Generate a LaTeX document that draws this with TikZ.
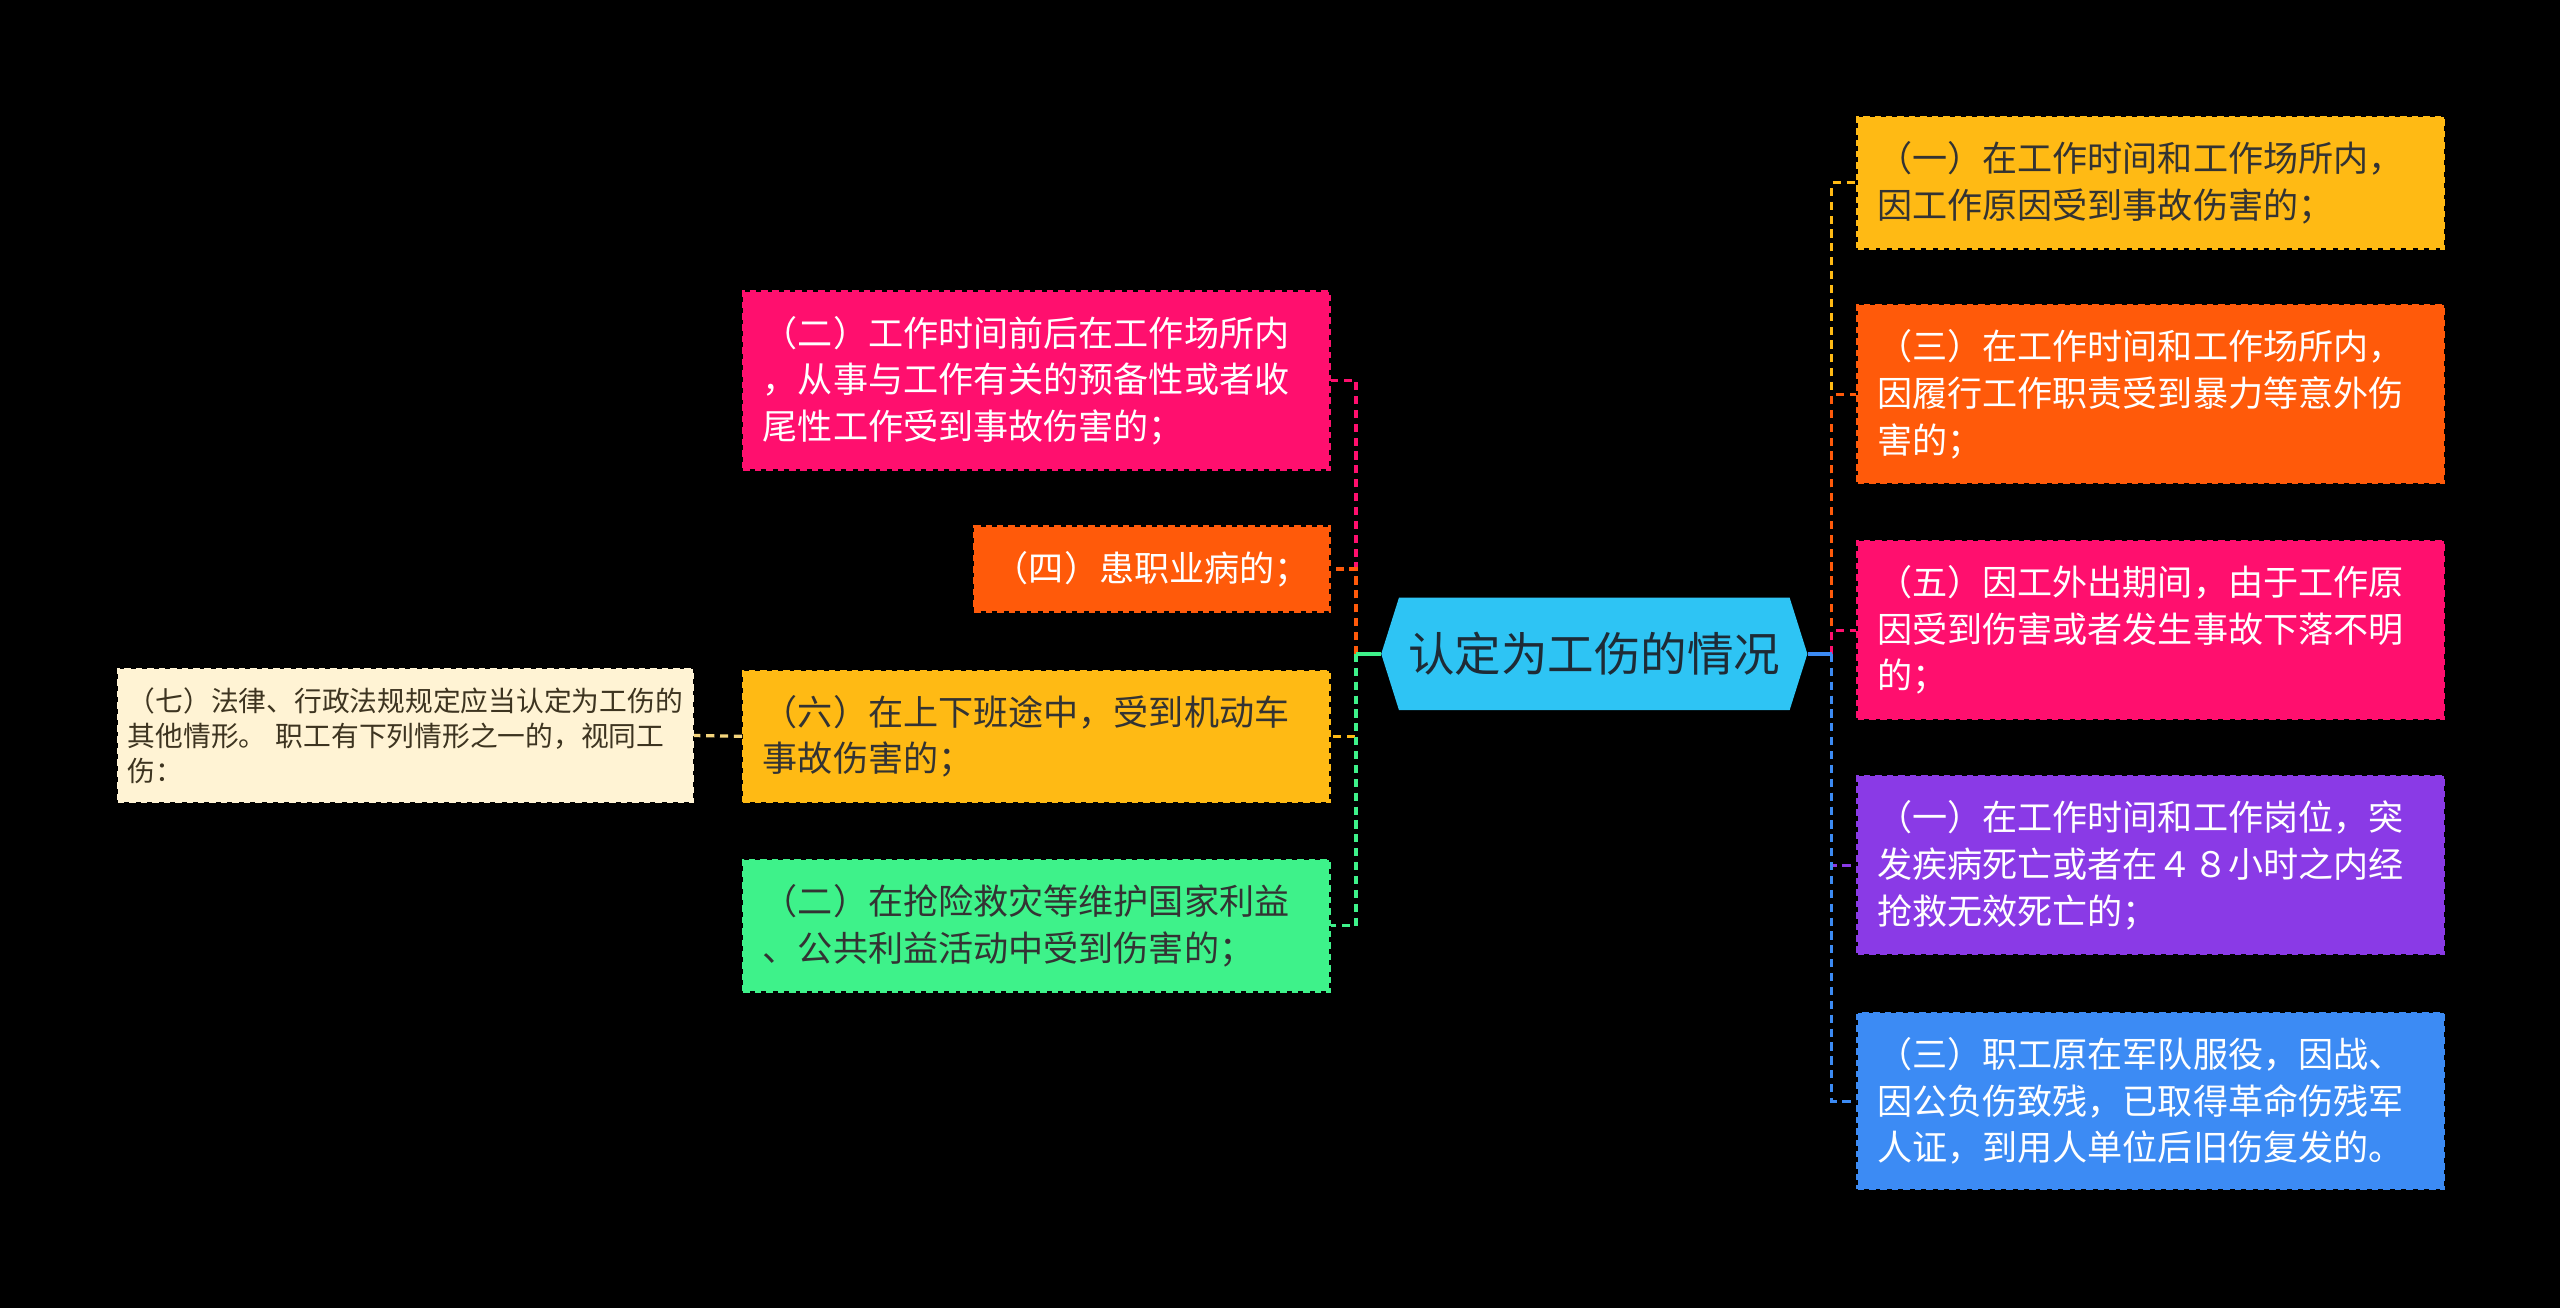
\documentclass[tikz,border=0pt]{standalone}
\usepackage{fontspec}
\setmainfont{Noto Sans CJK SC}
\usetikzlibrary{shapes.symbols}
\definecolor{hubcyan}{HTML}{2EC4F4}
\definecolor{hubtext}{HTML}{1E2B36}
\definecolor{tyellow}{HTML}{FFBA14}
\definecolor{torange}{HTML}{FF5A0A}
\definecolor{tpink}{HTML}{FF0F6E}
\definecolor{tpurple}{HTML}{8A3AE6}
\definecolor{tblue}{HTML}{3C8BF4}
\definecolor{tgreen}{HTML}{3EF28A}
\definecolor{tcream}{HTML}{FFF3D4}
\definecolor{tgold}{HTML}{F4D47C}
\definecolor{darktext}{HTML}{333333}
\definecolor{creamtext}{HTML}{3D3420}

\begin{document}
\begin{tikzpicture}[x=1pt,y=-1pt,
    leaf/.style={draw=#1,fill=#1,dash pattern=on 4pt off 3pt,line width=1.5pt,
      inner xsep=12pt,inner ysep=15pt,align=left,font=\fontsize{21.5}{28.5}\selectfont},
    wide/.style={text width=335pt},
    link/.style={draw=#1,line width=2pt,dash pattern=on 5pt off 3.5pt},
    stub/.style={draw=#1,line width=2pt}]
  \fill[black] (0,0) rectangle (1568,801);

  \node[signal,signal to=west and east,signal pointer angle=145,fill=hubcyan,
    minimum width=261pt,minimum height=69pt,text=hubtext,
    font=\fontsize{28.5}{34}\selectfont] (hub) at (976.5,400.5) {认定为工伤的情况};
  \coordinate (rtrunk) at (1122,400.5);
  \coordinate (ltrunk) at (830.5,400.5);

  \node[leaf=tyellow,wide,text=darktext,anchor=west] (r1) at (1137,112)
    {（一）在工作时间和工作场所内，\\因工作原因受到事故伤害的；};
  \node[leaf=torange,wide,text=white,anchor=west] (r2) at (1137,241.5)
    {（三）在工作时间和工作场所内，\\因履行工作职责受到暴力等意外伤\\害的；};
  \node[leaf=tpink,wide,text=white,anchor=west] (r3) at (1137,386)
    {（五）因工外出期间，由于工作原\\因受到伤害或者发生事故下落不明\\的；};
  \node[leaf=tpurple,wide,text=white,anchor=west] (r4) at (1137,530)
    {（一）在工作时间和工作岗位，突\\发疾病死亡或者在４８小时之内经\\抢救无效死亡的；};
  \node[leaf=tblue,wide,text=white,anchor=west] (r5) at (1137,674.5)
    {（三）职工原在军队服役，因战、\\因公负伤致残，已取得革命伤残军\\人证，到用人单位后旧伤复发的。};

  \node[leaf=tpink,wide,text=white,anchor=east] (l1) at (815,233)
    {（二）工作时间前后在工作场所内\\，从事与工作有关的预备性或者收\\尾性工作受到事故伤害的；};
  \node[leaf=torange,text=white,anchor=east] (l2) at (815,348.5)
    {（四）患职业病的；};
  \node[leaf=tyellow,wide,text=darktext,anchor=east] (l3) at (815,451)
    {（六）在上下班途中，受到机动车\\事故伤害的；};
  \node[leaf=tgreen,wide,text=darktext,anchor=east] (l4) at (815,567)
    {（二）在抢险救灾等维护国家利益\\、公共利益活动中受到伤害的；};
  \node[leaf=tcream,text width=340pt,inner xsep=6pt,inner ysep=11pt,text=creamtext,
    font=\fontsize{17}{21.5}\selectfont,anchor=east] (l5) at (425,450.5)
    {（七）法律、行政法规规定应当认定为工伤的\\其他情形。 职工有下列情形之一的，视同工\\伤：};

  \draw[link=tyellow] (rtrunk) |- (r1.west);
  \draw[link=torange] (rtrunk) |- (r2.west);
  \draw[link=tpink] (rtrunk) |- (r3.west);
  \draw[link=tpurple] (rtrunk) |- (r4.west);
  \draw[link=tblue] (rtrunk) |- (r5.west);
  \draw[stub=tblue] (hub.east) -- (rtrunk);

  \draw[link=tpink] (ltrunk) |- (l1.east);
  \draw[link=torange] (ltrunk) |- (l2.east);
  \draw[link=tyellow] (ltrunk) |- (l3.east);
  \draw[link=tgreen] (ltrunk) |- (l4.east);
  \draw[stub=tgreen] (hub.west) -- (ltrunk);

  \draw[link=tgold] (l3.west) -- (l5.east);
\end{tikzpicture}
\end{document}
